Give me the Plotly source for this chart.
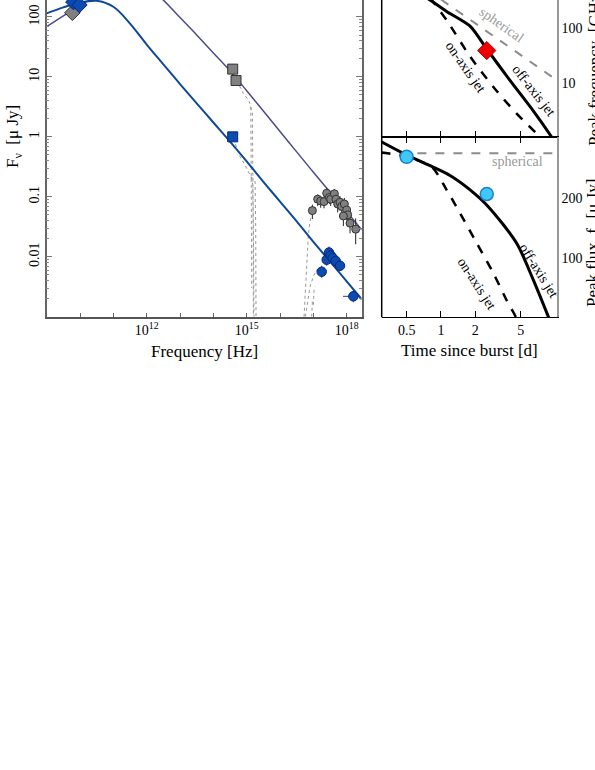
import numpy as np
import plotly.graph_objects as go

# ---- left panel: broadband SED (values stored as log10) ----
blue_model_lognu = [9.0, 9.5, 10.0, 10.5, 11.0, 11.5, 12.0, 12.5, 13.0, 13.5, 14.0,
                    14.5, 15.0, 15.5, 16.0, 16.5, 17.0, 17.5, 18.0, 18.45]
blue_model_logf = [2.06, 2.16, 2.24, 2.27, 2.17, 1.89, 1.54, 1.21, 0.88, 0.56, 0.24,
                   -0.08, -0.41, -0.75, -1.08, -1.41, -1.75, -2.08, -2.41, -2.71]

purple_model_lognu = [9.0, 9.5, 10.0, 10.5, 11.0, 11.5, 12.0, 12.5, 13.0, 13.5, 14.0,
                      14.5, 15.0, 15.5, 16.0, 16.5, 17.0, 17.5, 18.0, 18.45]
purple_model_logf = [1.84, 2.02, 2.19, 2.35, 2.50, 2.58, 2.52, 2.28, 1.99, 1.70, 1.40,
                     1.10, 0.77, 0.43, 0.09, -0.25, -0.59, -0.92, -1.25, -1.55]

radio_gray_lognu = [9.77]
radio_gray_logf = [2.07]
radio_blue_lognu = [9.80, 9.98]
radio_blue_logf = [2.25, 2.20]

opt_gray_lognu = [14.58, 14.68]
opt_gray_logf = [1.13, 0.94]
opt_blue_lognu = [14.58]
opt_blue_logf = [0.0]

xray_gray_lognu = [16.97, 17.13, 17.22, 17.32, 17.40, 17.48, 17.52, 17.63, 17.68,
                   17.73, 17.80, 17.85, 17.93, 18.00, 18.03, 17.90, 18.10, 18.27]
xray_gray_logf = [-1.23, -1.04, -1.07, -1.08, -0.94, -1.01, -1.04, -0.95, -1.04,
                  -1.12, -1.09, -1.16, -1.12, -1.22, -1.30, -1.32, -1.44, -1.54]
xray_gray_dlog = [0.10, 0.08, 0.08, 0.08, 0.08, 0.08, 0.08, 0.08, 0.10,
                  0.10, 0.10, 0.10, 0.10, 0.12, 0.12, 0.12, 0.12, 0.18]

xray_blue_lognu = [17.25, 17.40, 17.47, 17.52, 17.58, 17.67, 17.80, 18.20]
xray_blue_logf = [-2.25, -2.05, -1.93, -1.98, -2.02, -2.07, -2.15, -2.66]
xray_blue_dlog = [0.10, 0.10, 0.10, 0.08, 0.10, 0.08, 0.08, 0.10]
xray_blue_lognu_lo = [17.25, 17.40, 17.47, 17.52, 17.58, 17.67, 17.80, 17.89]
xray_blue_lognu_hi = [17.25, 17.40, 17.47, 17.52, 17.58, 17.67, 17.80, 18.40]

# dotted absorbed spectra
spectra = [
    ([14.68, 14.75, 14.90, 15.05, 15.10, 15.12, 15.13, 15.14, 15.15],
     [0.93, 0.89, 0.72, 0.62, 0.55, 0.50, 0.0, -1.0, -2.52]),
    ([15.12, 15.17, 15.19, 15.20], [0.50, 0.40, -1.0, -3.0]),
    ([14.60, 14.80, 14.95, 15.07, 15.13, 15.18, 15.20, 15.22],
     [-0.03, -0.33, -0.47, -0.60, -0.67, -0.80, -1.5, -3.0]),
    ([15.13, 15.25, 15.27, 15.28], [-0.67, -0.72, -1.5, -3.0]),
    ([16.72, 16.78, 16.85, 16.90, 16.97], [-3.0, -2.38, -1.63, -1.42, -1.24]),
    ([16.76, 16.84, 16.90, 17.00, 17.10, 17.25], [-3.0, -2.72, -2.50, -2.33, -2.22, -2.20]),
    ([16.95, 16.97, 17.00, 17.02, 17.05], [-3.0, -2.75, -2.80, -2.55, -2.50]),
]

# ---- right panels ----
top_off_t = [0.75, 0.80, 1.12, 1.80, 2.52, 4.0, 6.45, 9.35, 10.4]
top_off_lognu = [2.56, 2.52, 2.31, 2.04, 1.62, 1.05, 0.48, 0.0, -0.15]
top_on_t = [0.80, 0.83, 1.12, 1.80, 2.88, 4.61, 7.4, 8.0]
top_on_lognu = [2.56, 2.52, 2.15, 1.48, 0.92, 0.43, 0.0, -0.08]
top_sph_t = [1.0, 10.35]
top_sph_lognu = [2.53, 1.047]
top_obs_t = [2.52]
top_obs_lognu = [1.59]

bot_off_t = [0.30, 0.5, 0.83, 1.2, 1.80, 2.60, 4.61, 6.45, 8.73, 9.2]
bot_off_f = [294, 272, 253, 238, 214, 186, 125, 64, 3, -8]
bot_on_t = [0.30, 0.5, 0.83, 1.12, 1.47, 2.06, 2.88, 3.77, 4.46, 4.7]
bot_on_f = [276, 269, 252, 214, 175, 125, 75, 30, 5, -5]
bot_sph_t = [0.30, 10.35]
bot_sph_f = [275, 275]
bot_obs_t = [0.5, 2.52]
bot_obs_f = [269, 207]

serif = "Liberation Serif, Times New Roman, serif"
W, H = 595, 770


def px(x):
    return x / W


def py(y):
    return 1 - y / H


def lin(v):
    return [10 ** a for a in v]


fig = go.Figure()

for lnu, lf in spectra:
    fig.add_trace(go.Scatter(x=lin(lnu), y=lin(lf), mode='lines',
                             line=dict(color='#8a8a8a', width=0.9, dash='dot')))

fig.add_trace(go.Scatter(x=lin(purple_model_lognu), y=lin(purple_model_logf), mode='lines',
                         line=dict(color='#4d4a8c', width=1.5, shape='spline')))
fig.add_trace(go.Scatter(x=lin(blue_model_lognu), y=lin(blue_model_logf), mode='lines',
                         line=dict(color='#0d4a96', width=2, shape='spline')))

gray_mk = dict(color='#808080', line=dict(color='#333333', width=1))
blue_mk = dict(color='#0b4cae', line=dict(color='#0a2380', width=1))

fig.add_trace(go.Scatter(x=lin(radio_gray_lognu), y=lin(radio_gray_logf), mode='markers',
                         marker=dict(symbol='diamond', size=12, **gray_mk)))
fig.add_trace(go.Scatter(x=lin(radio_blue_lognu), y=lin(radio_blue_logf), mode='markers',
                         marker=dict(symbol='diamond', size=12, **blue_mk)))
fig.add_trace(go.Scatter(x=lin(opt_gray_lognu), y=lin(opt_gray_logf), mode='markers',
                         marker=dict(symbol='square', size=10, **gray_mk)))
fig.add_trace(go.Scatter(x=lin(opt_blue_lognu), y=lin(opt_blue_logf), mode='markers',
                         marker=dict(symbol='square', size=10, **blue_mk)))

gy = lin(xray_gray_logf)
fig.add_trace(go.Scatter(
    x=lin(xray_gray_lognu), y=gy, mode='markers',
    error_y=dict(type='data', symmetric=False,
                 array=[10 ** (f + d) - v for f, d, v in zip(xray_gray_logf, xray_gray_dlog, gy)],
                 arrayminus=[v - 10 ** (f - 1.4 * d) for f, d, v in zip(xray_gray_logf, xray_gray_dlog, gy)],
                 color='#222222', thickness=1, width=0),
    marker=dict(symbol='circle', size=8, **gray_mk)))

bx = lin(xray_blue_lognu)
by = lin(xray_blue_logf)
fig.add_trace(go.Scatter(
    x=bx, y=by, mode='markers',
    error_y=dict(type='data', symmetric=False,
                 array=[10 ** (f + d) - v for f, d, v in zip(xray_blue_logf, xray_blue_dlog, by)],
                 arrayminus=[v - 10 ** (f - d) for f, d, v in zip(xray_blue_logf, xray_blue_dlog, by)],
                 color='#2040a0', thickness=1, width=0),
    error_x=dict(type='data', symmetric=False,
                 array=[10 ** h - v for h, v in zip(xray_blue_lognu_hi, bx)],
                 arrayminus=[v - 10 ** lo for lo, v in zip(xray_blue_lognu_lo, bx)],
                 color='#2040a0', thickness=1, width=0),
    marker=dict(symbol='circle', size=9.5, **blue_mk)))

# top right
fig.add_trace(go.Scatter(x=top_sph_t, y=lin(top_sph_lognu), xaxis='x2', yaxis='y2', mode='lines',
                         line=dict(color='#8c8c8c', width=2, dash='dash')))
fig.add_trace(go.Scatter(x=top_on_t, y=lin(top_on_lognu), xaxis='x2', yaxis='y2', mode='lines',
                         line=dict(color='black', width=2.5, dash='dash', shape='spline', smoothing=0.7)))
fig.add_trace(go.Scatter(x=top_off_t, y=lin(top_off_lognu), xaxis='x2', yaxis='y2', mode='lines',
                         line=dict(color='black', width=3, shape='spline', smoothing=0.7)))
fig.add_trace(go.Scatter(x=top_obs_t, y=lin(top_obs_lognu), xaxis='x2', yaxis='y2', mode='markers',
                         marker=dict(symbol='diamond', size=14, color='#ee0000',
                                     line=dict(color='#a00000', width=1))))

# bottom right
fig.add_trace(go.Scatter(x=bot_sph_t, y=bot_sph_f, xaxis='x3', yaxis='y3', mode='lines',
                         line=dict(color='#8c8c8c', width=2, dash='dash')))
fig.add_trace(go.Scatter(x=bot_on_t, y=bot_on_f, xaxis='x3', yaxis='y3', mode='lines',
                         line=dict(color='black', width=2.5, dash='dash', shape='spline', smoothing=0.8)))
fig.add_trace(go.Scatter(x=bot_off_t, y=bot_off_f, xaxis='x3', yaxis='y3', mode='lines',
                         line=dict(color='black', width=3, shape='spline', smoothing=0.8)))
fig.add_trace(go.Scatter(x=bot_obs_t, y=bot_obs_f, xaxis='x3', yaxis='y3', mode='markers',
                         marker=dict(symbol='circle', size=13, color='#40c8f8',
                                     line=dict(color='#1a7fd0', width=1.5))))

x_major = [12, 15, 18]
x_minor = [10.0 ** k for k in range(9, 19) if k not in x_major]
y_minor = [m * 10.0 ** k for k in range(-3, 3) for m in range(2, 10)]

fig.update_layout(
    width=W, height=H, margin=dict(l=0, r=0, t=0, b=0),
    paper_bgcolor='white', plot_bgcolor='white', showlegend=False,
    font=dict(family=serif, size=14, color='black'),
    xaxis=dict(type='log', range=[9.0, 18.45], domain=[px(46.7), px(361.7)], anchor='y',
               showline=True, linecolor='#555555', linewidth=1.5, ticks='inside', ticklen=4,
               tickcolor='#666666', tickvals=[10.0 ** k for k in x_major],
               ticktext=['10<sup>%d</sup>' % k for k in x_major],
               minor=dict(tickvals=x_minor, ticks='inside', ticklen=4, tickcolor='#666666'),
               showgrid=False, zeroline=False, tickfont=dict(size=14)),
    yaxis=dict(type='log', range=[-3, 2.283], domain=[py(316.7), 1], anchor='x',
               showline=True, mirror='ticks', linecolor='#666666', linewidth=1.5,
               ticks='inside', ticklen=6, tickcolor='#777777',
               tickvals=[0.01, 0.1, 1, 10, 100], ticktext=['0.01', '0.1', '1', '10', '100'],
               tickangle=-90, showgrid=False, zeroline=False,
               minor=dict(tickvals=y_minor, ticks='inside', ticklen=3, tickcolor='#888888')),
    xaxis2=dict(type='log', range=[-0.52, 1.015], domain=[px(381.7), px(556.7)], anchor='y2',
                showline=True, linecolor='black', linewidth=1, ticks='inside', ticklen=6,
                tickcolor='black', tickvals=[0.5, 1, 2, 5], showticklabels=False,
                showgrid=False, zeroline=False),
    yaxis2=dict(type='log', range=[0, 2.52], domain=[py(137), 1], anchor='x2', side='right',
                showline=True, linecolor='#999999', linewidth=2, ticks='',
                tickvals=[10, 100], ticktext=['10', '100'], showgrid=False, zeroline=False),
    xaxis3=dict(type='log', range=[-0.52, 1.015], domain=[px(381.7), px(556.7)], anchor='y3',
                showline=True, mirror='ticks', linecolor='black', linewidth=1, ticks='inside',
                ticklen=6, tickcolor='black', tickvals=[0.5, 1, 2, 5],
                ticktext=['0.5', '1', '2', '5'], showgrid=False, zeroline=False),
    yaxis3=dict(range=[1.7, 302], domain=[py(317.3), py(137)], anchor='x3', side='right',
                showline=True, linecolor='#999999', linewidth=2, ticks='',
                tickvals=[100, 200], ticktext=['100', '200'], showgrid=False, zeroline=False),
)

for xr, yr in (('x2', 'y2'), ('x3', 'y3')):
    fig.add_shape(type='line', xref=xr + ' domain', yref=yr + ' domain', x0=0, x1=0, y0=0, y1=1,
                  line=dict(color='black', width=1.5))


def note(text, x, y, size=14, angle=0, color='black'):
    fig.add_annotation(text=text, x=px(x), y=py(y), xref='paper', yref='paper',
                       showarrow=False, textangle=angle, xanchor='center', yanchor='middle',
                       font=dict(family=serif, size=size, color=color))


note('F<sub>ν</sub>  [μ Jy]', 14, 137, size=17, angle=-90)
note('Frequency [Hz]', 204, 351, size=17)
note('Time since burst [d]', 469, 350, size=17)
note('Peak frequency  [GHz]', 594, 68, size=17, angle=-90)
note('Peak flux  f<sub>ν</sub> [μ Jy]', 594, 243, size=17, angle=-90)

note('spherical', 501, 25, angle=35, color='#999999')
note('on-axis jet', 465, 67, angle=55)
note('off-axis jet', 534, 90, angle=52)
note('spherical', 517, 162, color='#999999')
note('off-axis jet', 539, 270, angle=58)
note('on-axis jet', 477, 283, angle=57)

fig.write_html("out.html", config={'displayModeBar': False},
               post_script="document.body.style.margin='0';")
